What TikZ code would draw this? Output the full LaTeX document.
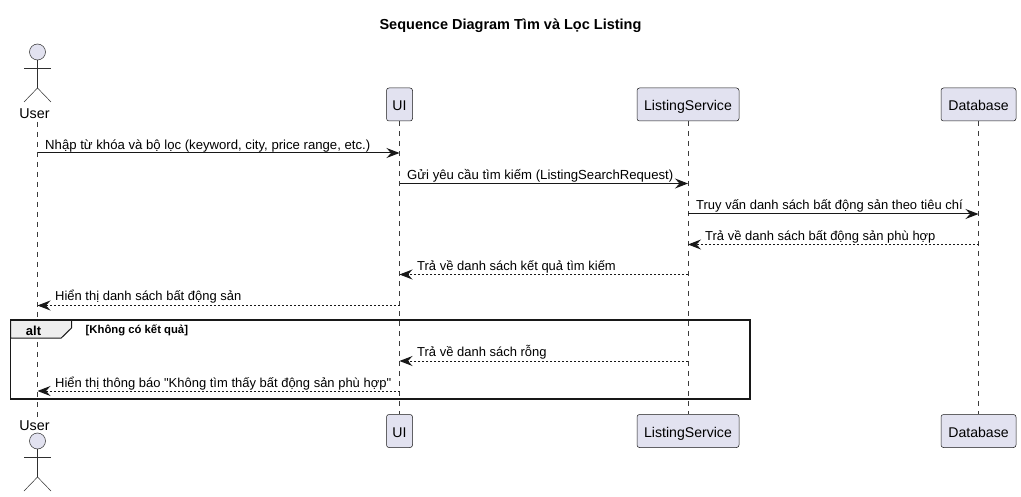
\documentclass[tikz,border=0pt]{standalone}
\usepackage{fontspec}
\setmainfont{Liberation Sans}
\newfontfamily\plainf{Liberation Sans}
\usetikzlibrary{arrows.meta}
\definecolor{partfill}{HTML}{E2E2F0}
\definecolor{partline}{HTML}{181818}
\definecolor{tabfill}{HTML}{EEEEEE}
\tikzset{
  x=1pt,y=-1pt,
  box/.style={draw=partline,fill=partfill,line width=.5pt,rounded corners=2.5pt,minimum height=33pt,inner sep=0pt,text height=12pt,text depth=0pt,font=\fontsize{14.1}{16}\selectfont,text=black},
  life/.style={draw=partline!85,line width=.5pt,dash pattern=on 5pt off 5pt},
  msg/.style={draw=partline,line width=1pt,-{Stealth[length=13pt,width=10pt,inset=4.5pt]}},
  ret/.style={msg,dash pattern=on 2pt off 2pt},
  lab/.style={inner sep=0pt,anchor=base west,font=\fontsize{13.15}{15}\selectfont,text=black},
  labv/.style={lab,font=\fontsize{12.98}{15}\selectfont},
  act/.style={draw=partline!90,line width=.5pt},
  acthead/.style={act,fill=partfill},
  actlab/.style={inner sep=0pt,anchor=base,font=\fontsize{14.3}{16}\selectfont,text=black},
}
\begin{document}
\begin{tikzpicture}
\useasboundingbox (0,0) rectangle (1021,497);
\fill[white] (0,0) rectangle (1021,497);
\coordinate (ut) at (37.5,122); \coordinate (ub) at (37.5,417);
\node[box,minimum width=26pt] (ui1) at (399.5,104.5) {UI};
\node[box,minimum width=102pt] (ls1) at (688,104.5) {ListingService};
\node[box,minimum width=75pt] (db1) at (978.5,104.5) {Database};
\node[box,minimum width=26pt] (ui2) at (399.5,431) {UI};
\node[box,minimum width=102pt] (ls2) at (688,431) {ListingService};
\node[box,minimum width=75pt] (db2) at (978.5,431) {Database};
\draw[life] (ut) -- (ub);
\draw[life] (ui1) -- (ui2);
\draw[life] (ls1) -- (ls2);
\draw[life] (db1) -- (db2);
\node[inner sep=0pt,font=\fontsize{14.5}{17}\selectfont\bfseries] (title) at (510.5,26) {Sequence Diagram Tìm và Lọc Listing};
\foreach \n/\hy/\ay/\by/\ly in {a/52/68/88/102,b/441/457/477/491}{
  \draw[acthead] (37.5,\hy) circle (8);
  \draw[act] (37.5,\hy+8) -- (37.5,\by);
  \draw[act] (24,\ay) -- (51,\ay);
  \draw[act] (24,\ly) -- (37.5,\by) -- (51,\ly);
}
\node[actlab] (user1) at (34.5,118.5) {User};
\node[actlab] (user2) at (34.5,430) {User};
\coordinate (u1) at (37.5,153); \coordinate (i1) at (399.5,153);
\coordinate (i2) at (399.5,183.5); \coordinate (l2) at (688,183.5);
\coordinate (l3) at (688,214); \coordinate (d3) at (978.5,214);
\coordinate (d4) at (978.5,244.5); \coordinate (l4) at (688,244.5);
\coordinate (l5) at (688,274.5); \coordinate (i5) at (399.5,274.5);
\coordinate (i6) at (399.5,305.5); \coordinate (u6) at (37.5,305.5);
\coordinate (l7) at (688,361); \coordinate (i7) at (399.5,361);
\coordinate (i8) at (399.5,391); \coordinate (u8) at (37.5,391);
\draw[msg] (u1) -- (i1);
\draw[msg] (i2) -- (l2);
\draw[msg] (l3) -- (d3);
\draw[ret] (d4) -- (l4);
\draw[ret] (l5) -- (i5);
\draw[ret] (i6) -- (u6);
\draw[ret] (l7) -- (i7);
\draw[ret] (i8) -- (u8);
\node[lab] (m1) at (45,149.5) {Nhập từ khóa và bộ lọc (keyword, city, price range, etc.)};
\node[lab] (m2) at (407,179.5) {Gửi yêu cầu tìm kiếm (ListingSearchRequest)};
\node[labv] (m3) at (696,209.5) {Truy vấn danh sách bất động sản theo tiêu chí};
\node[labv] (m4) at (705,240.5) {Trả về danh sách bất động sản phù hợp};
\node[labv] (m5) at (417,270.5) {Trả về danh sách kết quả tìm kiếm};
\node[labv] (m6) at (55,300.5) {Hiển thị danh sách bất động sản};
\node[labv] (m7) at (417,356.5) {Trả về danh sách rỗng};
\node[labv] (m8) at (55,387.5) {\plainf Hiển thị thông báo "Không tìm thấy bất động sản phù hợp"};
\draw[partline,line width=1.5pt] (10.5,320.25) rectangle (750,399);
\draw[partline,line width=1pt,fill=tabfill] (10.5,320.25) -- (71.5,320.25) -- (71.5,328) -- (61,338.25) -- (10.5,338.25) -- cycle;
\draw[partline,line width=1.5pt] (10.5,320.25) -- (71.5,320.25) (10.5,320.25) -- (10.5,338.25);
\node[inner sep=0pt,font=\fontsize{13}{15}\selectfont\bfseries] (alt) at (33.5,330.5) {alt};
\node[inner sep=0pt,anchor=base west,font=\fontsize{11.3}{13}\selectfont\bfseries] (guard) at (85.5,334) {[Không có kết quả]};
\end{tikzpicture}
\end{document}
